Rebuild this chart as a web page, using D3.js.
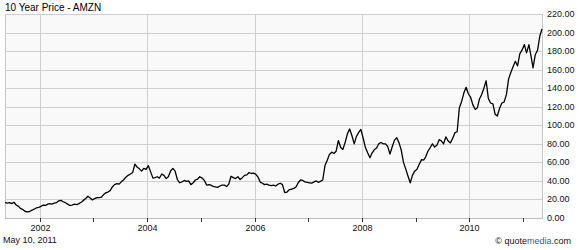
<!DOCTYPE html>
<html>
<head>
<meta charset="utf-8">
<script src="https://cdn.jsdelivr.net/npm/d3@7"></script>
<style>
body { margin: 0; background: #fff; }
text { font-family: "Liberation Sans", Arial, sans-serif; }
</style>
</head>
<body>
<div id="chart"></div>
<script>
// Chart size and plot frame
var width = 579;
var height = 250;
var margin = { top: 14, right: 37, bottom: 32, left: 5 };

// Half-monthly closes (10th and 25th of each month)
var p2001 = [16.5, 16.0, 16.5, 15.5, 17.0, 14.0, 12.5, 10.0, 9.0, 7.0, 6.5, 7.0, 8.5, 9.5, 11.0, 11.5];
var p2002 = [12.5, 14.0, 13.5, 15.0, 15.5, 15.0, 16.0, 16.5, 18.5, 19.0, 17.5, 16.5, 15.0, 13.5, 14.0, 15.0, 14.5, 15.5, 17.0, 19.0, 21.0, 23.5, 21.5, 19.5];
var p2003 = [21.0, 22.0, 22.0, 22.5, 25.0, 27.0, 28.0, 29.5, 33.5, 36.0, 37.0, 36.5, 39.0, 41.0, 44.0, 46.0, 47.5, 49.0, 58.0, 55.0, 53.0, 50.5, 53.5, 52.5];
var p2004 = [56.5, 50.0, 43.0, 43.5, 44.5, 43.0, 47.5, 46.0, 42.5, 44.5, 51.0, 53.5, 50.5, 41.5, 38.0, 39.0, 40.5, 39.5, 40.0, 36.0, 38.0, 41.0, 42.0, 44.5];
var p2005 = [43.0, 40.5, 35.5, 36.0, 35.5, 34.0, 33.5, 33.0, 34.5, 35.5, 35.5, 34.0, 36.5, 45.0, 43.5, 42.5, 44.5, 41.5, 43.5, 46.0, 46.5, 49.0, 48.0, 48.5];
var p2006 = [47.0, 44.0, 38.5, 37.5, 36.0, 36.5, 35.5, 35.0, 35.5, 34.5, 36.5, 37.5, 36.0, 27.5, 28.0, 30.5, 31.0, 32.0, 33.5, 38.0, 41.0, 40.5, 39.0, 38.5];
var p2007 = [38.0, 37.5, 39.0, 40.0, 38.5, 39.5, 41.0, 56.5, 62.0, 68.5, 71.0, 69.5, 72.0, 83.5, 76.0, 74.0, 82.0, 91.0, 96.0, 89.0, 80.0, 88.0, 92.0, 95.5];
var p2008 = [86.0, 76.0, 70.0, 65.0, 70.0, 73.5, 75.5, 80.0, 81.5, 80.0, 80.0, 77.0, 69.0, 76.5, 84.0, 86.5, 81.0, 73.0, 60.0, 53.0, 45.0, 38.0, 46.0, 50.5];
var p2009 = [52.5, 58.0, 63.0, 62.5, 66.0, 72.0, 76.0, 80.0, 76.5, 78.5, 84.5, 83.0, 80.0, 87.5, 83.0, 81.0, 86.0, 92.0, 93.0, 119.0, 126.0, 135.0, 141.0, 134.0];
var p2010 = [130.0, 122.0, 117.0, 119.0, 128.0, 133.0, 140.0, 148.0, 129.0, 124.0, 123.0, 112.0, 110.0, 118.0, 124.0, 125.0, 133.0, 150.0, 157.0, 163.0, 169.0, 164.0, 177.0, 181.0];
var p2011 = [187.0, 178.0, 187.0, 174.0, 162.0, 176.0, 181.0, 196.0, 204.0];

var years = [2001, 2002, 2003, 2004, 2005, 2006, 2007, 2008, 2009, 2010, 2011];
var yearSeries = [p2001, p2002, p2003, p2004, p2005, p2006, p2007, p2008, p2009, p2010, p2011];
var firstMonth = [4, 0, 0, 0, 0, 0, 0, 0, 0, 0, 0];

var yTicks = [0, 20, 40, 60, 80, 100, 120, 140, 160, 180, 200, 220];
var xTickYears = [2002, 2003, 2004, 2005, 2006, 2007, 2008, 2009, 2010, 2011];
var xLabelYears = [2002, 2004, 2006, 2008, 2010];

var title = "10 Year Price - AMZN";
var dateLabel = "May 10, 2011";

// Build the date/price rows
var data = [];
yearSeries.forEach(function(series, k) {
    series.forEach(function(v, i) {
        data.push({
            date: new Date(years[k], firstMonth[k] + Math.floor(i / 2), i % 2 === 0 ? 10 : 25),
            price: v
        });
    });
});

var svg = d3.select("#chart")
    .append("svg")
    .attr("width", width)
    .attr("height", height);

var x = d3.scaleTime()
    .domain([new Date(2001, 4, 10), new Date(2011, 4, 10)])
    .range([margin.left, width - margin.right]);

var y = d3.scaleLinear()
    .domain([0, 220])
    .range([height - margin.bottom, margin.top]);

// rounded copies so grid lines land on whole pixels
var xr = x.copy().interpolate(d3.interpolateRound);
var yr = y.copy().interpolate(d3.interpolateRound);

// plot background
svg.append("rect")
    .attr("x", margin.left + 0.5)
    .attr("y", margin.top + 0.5)
    .attr("width", width - margin.left - margin.right)
    .attr("height", height - margin.top - margin.bottom)
    .style("fill", "#f9f9f9")
    .style("stroke", "#c6c6c6");

// horizontal grid
svg.append("g")
    .attr("transform", "translate(" + margin.left + ",0)")
    .call(d3.axisLeft(yr).tickValues(yTicks).tickSize(-(width - margin.left - margin.right)).tickFormat(""))
    .call(function(g) { g.select(".domain").remove(); })
    .selectAll("line").style("stroke", "#cfcfcf");

// vertical grid on even years
svg.append("g")
    .attr("transform", "translate(0," + (height - margin.bottom) + ")")
    .call(d3.axisBottom(xr).tickValues(xLabelYears.map(function(d) { return new Date(d, 0, 1); }))
        .tickSize(-(height - margin.top - margin.bottom)).tickFormat(""))
    .call(function(g) { g.select(".domain").remove(); })
    .selectAll("line").style("stroke", "#cfcfcf");

// bottom axis line
svg.append("line")
    .attr("x1", margin.left)
    .attr("x2", width - margin.right + 1)
    .attr("y1", height - margin.bottom + 0.5)
    .attr("y2", height - margin.bottom + 0.5)
    .style("stroke", "#bdbdbd");

// year ticks and labels
var xAxis = svg.append("g")
    .attr("transform", "translate(0," + (height - margin.bottom) + ")")
    .call(d3.axisBottom(xr)
        .tickValues(xTickYears.map(function(d) { return new Date(d, 0, 1); }))
        .tickSize(4)
        .tickPadding(3)
        .tickFormat(function(d) {
            var yr0 = d.getFullYear();
            return xLabelYears.indexOf(yr0) >= 0 ? String(yr0) : "";
        }));
xAxis.select(".domain").remove();
xAxis.selectAll("line").style("stroke", "#333");
xAxis.selectAll("text")
    .style("font-size", "9px")
    .style("fill", "#111");

// price labels on the right
var yAxis = svg.append("g")
    .attr("transform", "translate(" + (width - margin.right) + ",0)")
    .call(d3.axisRight(yr).tickValues(yTicks).tickSize(0).tickPadding(5).tickFormat(d3.format(".2f")));
yAxis.select(".domain").remove();
yAxis.selectAll("text")
    .style("font-size", "9px")
    .style("fill", "#111");

// price line
var line = d3.line()
    .x(function(d) { return x(d.date); })
    .y(function(d) { return y(d.price); });

svg.append("path")
    .datum(data)
    .attr("d", line)
    .style("fill", "none")
    .style("stroke", "#000")
    .style("stroke-width", 1.3)
    .style("stroke-linejoin", "round");

// title and footer texts
svg.append("text")
    .attr("x", 5)
    .attr("y", 11)
    .style("font-size", "10px")
    .style("fill", "#000")
    .text(title);

svg.append("text")
    .attr("x", 3)
    .attr("y", 243)
    .style("font-size", "9px")
    .style("fill", "#111")
    .text(dateLabel);

var credit = svg.append("text")
    .attr("x", 571)
    .attr("y", 244)
    .style("font-size", "9px")
    .style("text-anchor", "end")
    .style("fill", "#111");
credit.append("tspan").text("\u00a9 quote");
credit.append("tspan").style("fill", "#2a5db0").text("media");
credit.append("tspan").text(".com");
</script>
</body>
</html>
